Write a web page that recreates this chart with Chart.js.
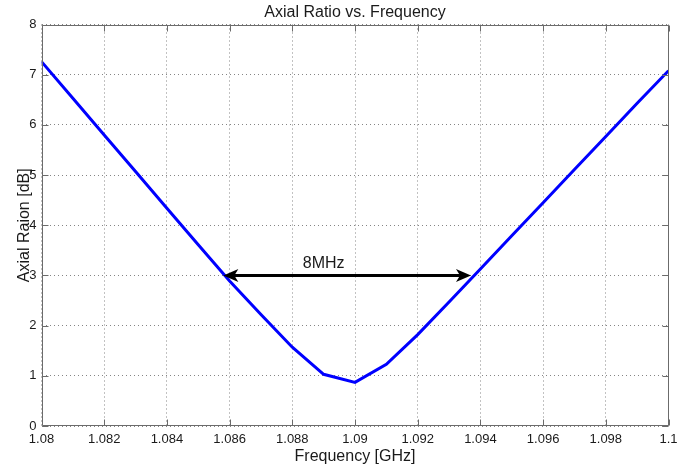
<!DOCTYPE html>
<html>
<head>
<meta charset="utf-8">
<title>Axial Ratio vs. Frequency</title>
<script src="https://cdn.jsdelivr.net/npm/chart.js@4/dist/chart.umd.min.js"></script>
<style>
  html, body { margin: 0; padding: 0; background: #fff; }
  canvas { display: block; }
</style>
</head>
<body>
<canvas id="chart-axial" width="678" height="472"></canvas>
<script>
// ─── Data ─────────────────────────────────────────────────────────────────────
const freqGHz = [
  1.080, 1.081, 1.082, 1.083, 1.084, 1.085, 1.086, 1.087, 1.088, 1.089, 1.090,
  1.091, 1.092, 1.093, 1.094, 1.095, 1.096, 1.097, 1.098, 1.099, 1.100,
];
const axialRatioDb = [
  7.26, 6.53, 5.80, 5.07, 4.34, 3.61, 2.89, 2.22, 1.57, 1.03, 0.87,
  1.23, 1.82, 2.47, 3.13, 3.79, 4.45, 5.11, 5.77, 6.43, 7.08,
];
const xTicks = [1.08, 1.082, 1.084, 1.086, 1.088, 1.09, 1.092, 1.094, 1.096, 1.098, 1.1];
const yTicks = [0, 1, 2, 3, 4, 5, 6, 7, 8];

// 3 dB bandwidth marker
const bandEdgesGHz = [1.0858, 1.0937];
const bandLevelDb = 3;
const bandLabel = '8MHz';
const bandLabelAt = [1.0890, 3.23];

const FONT = '"Liberation Sans", Arial, Helvetica, sans-serif';
const AXIS_GRAY = '#6b6b6b';
const TEXT = '#1a1a1a';

// ─── Plugins ──────────────────────────────────────────────────────────────────
const whiteBg = {
  id: 'whiteBg',
  beforeDraw(chart) {
    const { ctx, width, height } = chart;
    ctx.save();
    ctx.fillStyle = '#fff';
    ctx.fillRect(0, 0, width, height);
    ctx.restore();
  },
};

// box round the axes with inward tick marks on all four sides
const axesBox = {
  id: 'axesBox',
  afterDatasetsDraw(chart) {
    const { ctx, chartArea: a, scales: { x, y } } = chart;
    const L = Math.round(a.left) + 0.5, R = Math.round(a.right) - 0.5;
    const T = Math.round(a.top) + 0.5, B = Math.round(a.bottom) - 0.5;
    const len = 6;
    ctx.save();
    ctx.strokeStyle = AXIS_GRAY;
    ctx.lineWidth = 1;
    ctx.beginPath();
    ctx.rect(L, T, R - L, B - T);
    xTicks.forEach(v => {
      const px = Math.round(x.getPixelForValue(v)) + 0.5;
      ctx.moveTo(px, B); ctx.lineTo(px, B - len);
      ctx.moveTo(px, T); ctx.lineTo(px, T + len);
    });
    yTicks.forEach(v => {
      const py = Math.round(y.getPixelForValue(v)) + 0.5;
      ctx.moveTo(L, py); ctx.lineTo(L + len, py);
      ctx.moveTo(R, py); ctx.lineTo(R - len, py);
    });
    ctx.stroke();
    ctx.restore();
  },
};

function arrowHead(ctx, tipX, tipY, dir) {
  const len = 15, half = 6.5, notch = 4;
  ctx.beginPath();
  ctx.moveTo(tipX, tipY);
  ctx.lineTo(tipX + dir * len, tipY - half);
  ctx.lineTo(tipX + dir * (len - notch), tipY);
  ctx.lineTo(tipX + dir * len, tipY + half);
  ctx.closePath();
  ctx.fill();
}

const bandArrow = {
  id: 'bandArrow',
  afterDraw(chart) {
    const { ctx, scales: { x, y } } = chart;
    const x1 = x.getPixelForValue(bandEdgesGHz[0]);
    const x2 = x.getPixelForValue(bandEdgesGHz[1]);
    const py = y.getPixelForValue(bandLevelDb);
    ctx.save();
    ctx.strokeStyle = '#000';
    ctx.fillStyle = '#000';
    ctx.lineWidth = 3;
    ctx.beginPath();
    ctx.moveTo(x1 + 8, py);
    ctx.lineTo(x2 - 8, py);
    ctx.stroke();
    arrowHead(ctx, x1, py, 1);
    arrowHead(ctx, x2, py, -1);
    ctx.font = `16px ${FONT}`;
    ctx.textAlign = 'center';
    ctx.textBaseline = 'middle';
    ctx.fillStyle = TEXT;
    ctx.fillText(bandLabel, x.getPixelForValue(bandLabelAt[0]), y.getPixelForValue(bandLabelAt[1]));
    ctx.restore();
  },
};

// ─── Chart ────────────────────────────────────────────────────────────────────
const gridOpts = {
  color: '#858585',
  lineWidth: 1,
  drawTicks: false,
};

new Chart(document.getElementById('chart-axial').getContext('2d'), {
  type: 'line',
  data: {
    datasets: [{
      label: 'Axial Ratio',
      data: freqGHz.map((f, i) => ({ x: f, y: axialRatioDb[i] })),
      borderColor: '#0000ff',
      borderWidth: 3,
      pointRadius: 0,
      tension: 0,
      fill: false,
    }],
  },
  options: {
    responsive: false,
    animation: false,
    layout: { padding: { left: 0, right: 9.5, top: 0, bottom: 0 } },
    plugins: {
      legend: { display: false },
      tooltip: { enabled: false },
      title: {
        display: true,
        fullSize: false,
        text: 'Axial Ratio vs. Frequency',
        color: TEXT,
        font: { family: FONT, size: 16, weight: 'normal' },
        padding: { top: 3, bottom: 2.3 },
      },
    },
    scales: {
      x: {
        type: 'linear',
        min: 1.08, max: 1.1,
        afterBuildTicks: s => { s.ticks = xTicks.map(v => ({ value: v })); },
        afterFit: s => { s.height = 46; s.paddingLeft = 0; s.paddingRight = 0; },
        grid: { ...gridOpts },
        border: { display: false, dash: [1, 3] },
        ticks: {
          color: TEXT,
          font: { family: FONT, size: 13 },
          padding: 6,
          maxRotation: 0,
          autoSkip: false,
          callback: v => String(+v.toFixed(3)),
        },
        title: {
          display: true,
          text: 'Frequency [GHz]',
          color: TEXT,
          font: { family: FONT, size: 16 },
          padding: { top: 0, bottom: 5.9 },
        },
      },
      y: {
        min: 0, max: 8,
        afterBuildTicks: s => { s.ticks = yTicks.map(v => ({ value: v })); },
        afterFit: s => { s.width = 41.5; s.paddingTop = 0; s.paddingBottom = 0; },
        grid: { ...gridOpts },
        border: { display: false, dash: [1, 3] },
        ticks: {
          color: TEXT,
          font: { family: FONT, size: 13 },
          padding: 5,
        },
        title: {
          display: true,
          text: 'Axial Raion [dB]',
          color: TEXT,
          font: { family: FONT, size: 16 },
          padding: { top: 14.5, bottom: 0 },
        },
      },
    },
  },
  plugins: [whiteBg, axesBox, bandArrow],
});
</script>
</body>
</html>
